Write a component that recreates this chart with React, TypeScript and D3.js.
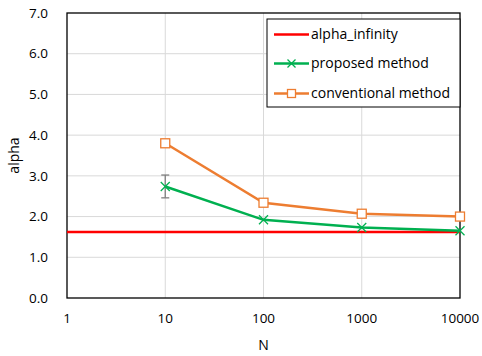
import React from "react";
import * as d3 from "d3";

const nValues = [10, 100, 1000, 10000];
const proposed = [2.74, 1.92, 1.73, 1.65];
const proposedErr = [0.28, 0, 0, 0];
const conventional = [3.8, 2.34, 2.07, 2.0];
const alphaInfinity = 1.62;
const xTicks = [1, 10, 100, 1000, 10000];
const yTicks = [0, 1, 2, 3, 4, 5, 6, 7];
const legendLabels = ["alpha_infinity", "proposed method", "conventional method"];

const W = 482, H = 356;
const M = { left: 67, right: 22, top: 13, bottom: 58 };
const FONT = "Open Sans, Noto Sans, sans-serif";

export default function App() {
  const x = d3.scaleLog().domain([1, 10000]).range([M.left, W - M.right]);
  const y = d3.scaleLinear().domain([0, 7]).range([H - M.bottom, M.top]);
  const line = d3.line<number>().x((_, i) => x(nValues[i])).y((d) => y(d));
  const RED = "#ff0000", GREEN = "#00b050", ORANGE = "#ed7d31";
  const x0 = M.left, x1 = W - M.right, y0 = H - M.bottom, y1 = M.top;

  const cross = (cx: number, cy: number, c: string, s = 4.5, k?: any) => (
    <g key={k} stroke={c} strokeWidth={1.3}>
      <line x1={cx - s} y1={cy - s} x2={cx + s} y2={cy + s} />
      <line x1={cx - s} y1={cy + s} x2={cx + s} y2={cy - s} />
    </g>
  );
  const square = (cx: number, cy: number, c: string, s = 4.5, k?: any) => (
    <rect key={k} x={cx - s} y={cy - s} width={2 * s} height={2 * s} fill="white" stroke={c} strokeWidth={1.3} />
  );

  const lgX = 267, lgY = 19, lgW = 193, lgH = 88;
  const rows = [34.5, 63.5, 93.5];

  return (
    <svg width={W} height={H} style={{ position: "absolute", left: 0, top: 0 }} fontFamily={FONT}>
      <rect width={W} height={H} fill="white" />
      {yTicks.slice(1, -1).map((t) => (
        <line key={"gy" + t} x1={x0} x2={x1} y1={y(t)} y2={y(t)} stroke="#d9d9d9" strokeWidth={1} />
      ))}
      {xTicks.slice(1, -1).map((t) => (
        <line key={"gx" + t} x1={x(t)} x2={x(t)} y1={y0} y2={y1} stroke="#d9d9d9" strokeWidth={1} />
      ))}
      <rect x={x0} y={y1} width={x1 - x0} height={y0 - y1} fill="none" stroke="#000" strokeWidth={1.3} />
      {yTicks.map((t) => (
        <text key={"ty" + t} x={48} y={y(t)} dy="0.35em" textAnchor="end" fontSize={13.5} fill="#000">
          {t.toFixed(1)}
        </text>
      ))}
      {xTicks.map((t) => (
        <text key={"tx" + t} x={x(t)} y={323} textAnchor="middle" fontSize={13.5} fill="#000">
          {t}
        </text>
      ))}
      <text x={(x0 + x1) / 2} y={350} textAnchor="middle" fontSize={14} fill="#000">N</text>
      <text transform={`translate(19,${(y0 + y1) / 2}) rotate(-90)`} textAnchor="middle" fontSize={14} fill="#000">alpha</text>

      <line x1={x0} x2={x1} y1={y(alphaInfinity)} y2={y(alphaInfinity)} stroke={RED} strokeWidth={2.5} />
      <path d={line(conventional) || ""} fill="none" stroke={ORANGE} strokeWidth={2.5} />
      {conventional.map((v, i) => square(x(nValues[i]), y(v), ORANGE, 4.5, "s" + i))}
      <path d={line(proposed) || ""} fill="none" stroke={GREEN} strokeWidth={2.5} />
      {proposed.map((v, i) =>
        proposedErr[i] > 0 ? (
          <g key={"e" + i} stroke="#7f7f7f" strokeWidth={1.3}>
            <line x1={x(nValues[i])} x2={x(nValues[i])} y1={y(v - proposedErr[i])} y2={y(v + proposedErr[i])} />
            <line x1={x(nValues[i]) - 4} x2={x(nValues[i]) + 4} y1={y(v - proposedErr[i])} y2={y(v - proposedErr[i])} />
            <line x1={x(nValues[i]) - 4} x2={x(nValues[i]) + 4} y1={y(v + proposedErr[i])} y2={y(v + proposedErr[i])} />
          </g>
        ) : null
      )}
      {proposed.map((v, i) => cross(x(nValues[i]), y(v), GREEN, 4.5, "c" + i))}

      <rect x={lgX} y={lgY} width={lgW} height={lgH} fill="white" stroke="#000" strokeWidth={1} />
      {legendLabels.map((lab, i) => {
        const c = [RED, GREEN, ORANGE][i];
        const ry = rows[i];
        return (
          <g key={"lg" + i}>
            <line x1={274} x2={309} y1={ry} y2={ry} stroke={c} strokeWidth={2.5} />
            {i === 1 ? cross(291.5, ry, c, 4) : null}
            {i === 2 ? square(291.5, ry, c, 4) : null}
            <text x={311} y={ry} dy="0.35em" fontSize={14} fill="#000">{lab}</text>
          </g>
        );
      })}
    </svg>
  );
}
